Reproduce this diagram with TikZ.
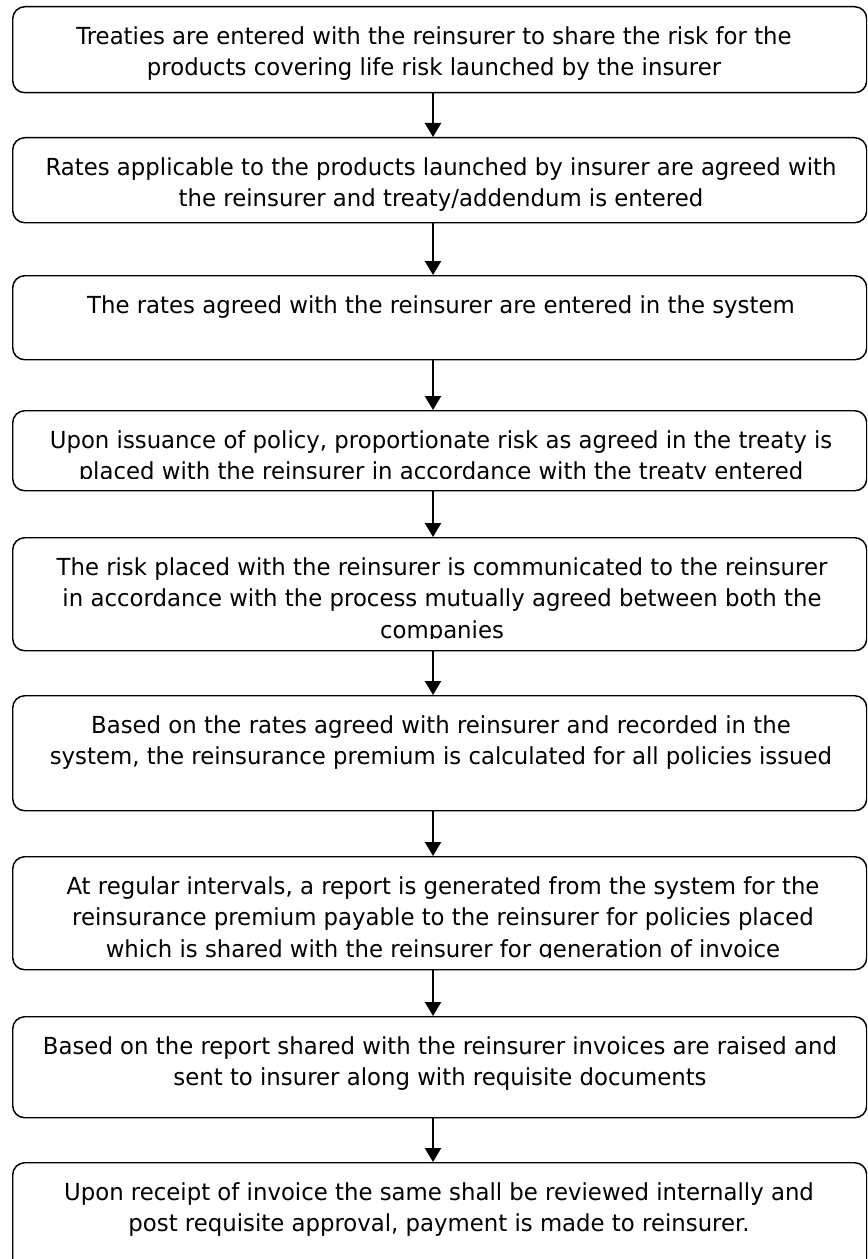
\documentclass[tikz,border=0pt]{standalone}
\usepackage{fontspec}
\setmainfont{DejaVu Sans}[FakeStretch=0.972]
\usetikzlibrary{arrows.meta,calc}

% one process step: rounded frame, text clipped a little above the frame bottom
% #1 name, #2 top (px), #3 height (px), #4 text centre x (px), #5 text
\newcommand\flowstep[5]{%
  \node[stepbox, minimum height=#3*0.75pt] (#1) at (12,#2) {};
  \begin{scope}
    \clip ($(#1.south west)+(0,-13)$) rectangle (#1.north east);
    \node[steptext] (#1t) at (#4,#2+16) {\strut #5};
  \end{scope}}

\begin{document}
\begin{tikzpicture}[x=0.75pt,y=-0.75pt,
  stepbox/.style={draw, line width=1.1pt, rounded corners=9pt,
    minimum width=640.5pt, inner sep=0pt, anchor=north west},
  steptext/.style={anchor=north, inner sep=0pt, align=center,
    font=\fontsize{17.6}{23.6}\selectfont},
  flow/.style={line width=1.7pt, -{Triangle[length=10.5pt,width=12pt]}}]
\useasboundingbox (0,0) rectangle (867,1259);
\clip (0,0) rectangle (867,1259);

\flowstep{s1}{6}{86}{434}{Treaties are entered with the reinsurer to share the risk for the\\products covering life risk launched by the insurer}
\flowstep{s2}{137}{85}{441}{Rates applicable to the products launched by insurer are agreed with\\the reinsurer and treaty/addendum is entered}
\flowstep{s3}{275}{84}{441}{The rates agreed with the reinsurer are entered in the system}
\flowstep{s4}{410}{80}{441}{Upon issuance of policy, proportionate risk as agreed in the treaty is\\placed with the reinsurer in accordance with the treaty entered}
\flowstep{s5}{537}{113}{442}{The risk placed with the reinsurer is communicated to the reinsurer\\in accordance with the process mutually agreed between both the\\companies}
\flowstep{s6}{695}{115}{441}{Based on the rates agreed with reinsurer and recorded in the\\system, the reinsurance premium is calculated for all policies issued}
\flowstep{s7}{856}{113}{443}{At regular intervals, a report is generated from the system for the\\reinsurance premium payable to the reinsurer for policies placed\\which is shared with the reinsurer for generation of invoice}
\flowstep{s8}{1016}{101}{440}{Based on the report shared with the reinsurer invoices are raised and\\sent to insurer along with requisite documents}
\flowstep{s9}{1162}{110}{439}{Upon receipt of invoice the same shall be reviewed internally and\\post requisite approval, payment is made to reinsurer.}

% connectors run down a common vertical line
\coordinate (ax) at (433,0);
\foreach \a/\b in {s1/s2,s2/s3,s3/s4,s4/s5,s5/s6,s6/s7,s7/s8,s8/s9}
  \draw[flow] (\a.south -| ax) -- (\b.north -| ax);
\end{tikzpicture}
\end{document}
